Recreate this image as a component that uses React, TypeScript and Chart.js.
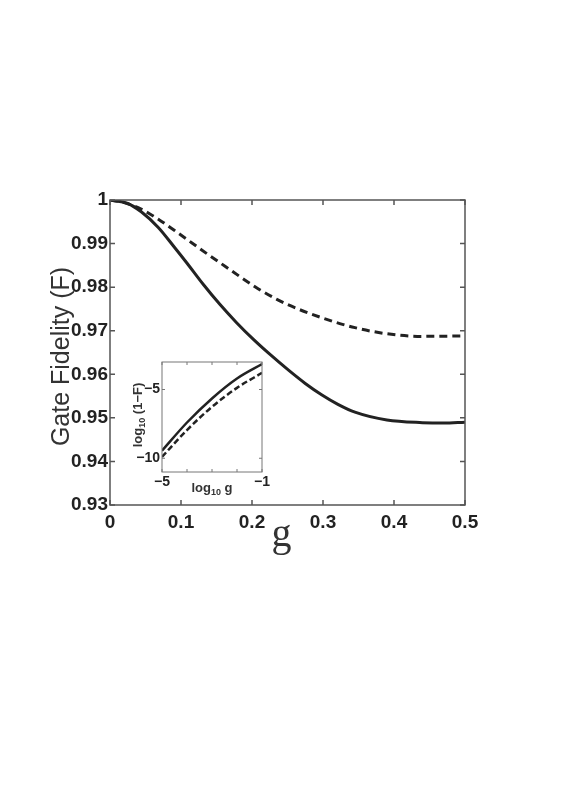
import React, { useEffect, useRef } from "react";
import { Chart, registerables } from "chart.js";

Chart.register(...registerables);

// ---------- Main plot data ----------
const gSolid = [0, 0.025, 0.044, 0.068, 0.091, 0.108, 0.1315, 0.155, 0.178, 0.202, 0.225, 0.251, 0.275, 0.298, 0.321, 0.345, 0.39, 0.44, 0.47, 0.5];
const fSolid = [1, 0.9992, 0.9973, 0.9937, 0.9891, 0.9856, 0.9806, 0.9760, 0.9719, 0.9680, 0.9646, 0.9610, 0.9579, 0.9553, 0.9531, 0.9513, 0.9495, 0.9489, 0.9488, 0.9490];

const gDashed = [0, 0.02, 0.044, 0.068, 0.091, 0.115, 0.138, 0.162, 0.185, 0.208, 0.235, 0.25, 0.298, 0.345, 0.39, 0.44, 0.5];
const fDashed = [1, 0.9994, 0.9979, 0.9956, 0.9930, 0.9902, 0.9875, 0.9848, 0.9822, 0.9797, 0.9772, 0.9760, 0.9730, 0.9707, 0.9693, 0.9687, 0.9688];

const xTickValues = [0, 0.1, 0.2, 0.3, 0.4, 0.5];
const yTickValues = [0.93, 0.94, 0.95, 0.96, 0.97, 0.98, 0.99, 1];

// ---------- Inset data ----------
const insetLogG = [-5, -4, -3, -2, -1];
const insetSolid = [-9.45, -7.4, -5.65, -4.2, -3.15];
const insetDashed = [-9.9, -7.95, -6.26, -4.88, -3.79];
const insetXTicks = [-5, -4, -3, -2, -1];
const insetXTickLabels = ["\u22125", "", "", "", "\u22121"];
const insetYTicks = [-10, -5];
const insetYTickLabels = ["\u221210", "\u22125"];

const W = 572;
const H = 810;
const TICK_FONT = "'Liberation Sans', Arial, Helvetica, sans-serif";

const fmt = (v: number) => String(parseFloat(Number(v).toFixed(2)));

const framePlugin = {
  id: "frame",
  beforeDraw(chart: any, _args: any, opts: any) {
    if (opts && opts.bg) {
      const { ctx, chartArea: a } = chart;
      ctx.save();
      ctx.fillStyle = opts.bg;
      ctx.fillRect(a.left, a.top, a.right - a.left, a.bottom - a.top);
      ctx.restore();
    }
  },
  afterDraw(chart: any, _args: any, opts: any) {
    const { ctx, chartArea: a, scales } = chart;
    const xs = scales.x;
    const ys = scales.y;
    const len = opts.len || 4;
    ctx.save();
    ctx.strokeStyle = opts.color || "#555";
    ctx.lineWidth = opts.width || 1;
    ctx.beginPath();
    xs.ticks.forEach((t: any) => {
      const p = xs.getPixelForValue(t.value);
      ctx.moveTo(p, a.bottom);
      ctx.lineTo(p, a.bottom - len);
      ctx.moveTo(p, a.top);
      ctx.lineTo(p, a.top + len);
    });
    ys.ticks.forEach((t: any) => {
      const p = ys.getPixelForValue(t.value);
      ctx.moveTo(a.left, p);
      ctx.lineTo(a.left + len, p);
      ctx.moveTo(a.right, p);
      ctx.lineTo(a.right - len, p);
    });
    ctx.stroke();
    ctx.strokeRect(a.left, a.top, a.right - a.left, a.bottom - a.top);
    ctx.restore();
  },
};

const mainTitles = {
  id: "mainTitles",
  afterDraw(chart: any) {
    const { ctx, chartArea: a } = chart;
    ctx.save();
    ctx.fillStyle = "#333";
    ctx.font = "25px 'Liberation Sans', Arial, sans-serif";
    ctx.textAlign = "center";
    ctx.textBaseline = "alphabetic";
    ctx.translate(a.left - 41, (a.top + a.bottom) / 2 + 4);
    ctx.rotate(-Math.PI / 2);
    ctx.fillText("Gate Fidelity (F)", 0, 0);
    ctx.restore();

    ctx.save();
    ctx.fillStyle = "#333";
    ctx.font = "40px 'Liberation Serif', 'Times New Roman', serif";
    ctx.textAlign = "center";
    ctx.textBaseline = "alphabetic";
    ctx.fillText("g", (a.left + a.right) / 2 - 6, a.bottom + 41);
    ctx.restore();
  },
};

function drawSubText(ctx: any, parts: { t: string; sub?: boolean }[], big: string, small: string, cx: number, cy: number) {
  let total = 0;
  const widths = parts.map((p) => {
    ctx.font = p.sub ? small : big;
    const w = ctx.measureText(p.t).width;
    total += w;
    return w;
  });
  let x = cx - total / 2;
  parts.forEach((p, i) => {
    ctx.font = p.sub ? small : big;
    ctx.fillText(p.t, x, cy + (p.sub ? 3 : 0));
    x += widths[i];
  });
}

const insetTitles = {
  id: "insetTitles",
  afterDraw(chart: any) {
    const { ctx, chartArea: a } = chart;
    const big = "bold 13px " + TICK_FONT;
    const small = "bold 9px " + TICK_FONT;
    ctx.save();
    ctx.fillStyle = "#333";
    ctx.textAlign = "left";
    ctx.textBaseline = "alphabetic";
    drawSubText(ctx, [{ t: "log" }, { t: "10", sub: true }, { t: " g" }], big, small, (a.left + a.right) / 2, a.bottom + 20);
    ctx.restore();

    ctx.save();
    ctx.fillStyle = "#333";
    ctx.textAlign = "left";
    ctx.textBaseline = "alphabetic";
    ctx.translate(a.left - 20, (a.top + a.bottom) / 2 - 2);
    ctx.rotate(-Math.PI / 2);
    drawSubText(ctx, [{ t: "log" }, { t: "10", sub: true }, { t: " (1\u2212F)" }], big, small, 0, 0);
    ctx.restore();
  },
};

export default function App() {
  const mainRef = useRef<HTMLCanvasElement | null>(null);
  const insetRef = useRef<HTMLCanvasElement | null>(null);

  useEffect(() => {
    const tickFont = { family: TICK_FONT, size: 19, weight: "bold" as const };
    const main = new Chart(mainRef.current as HTMLCanvasElement, {
      type: "line",
      data: {
        datasets: [
          {
            data: gSolid.map((g, i) => ({ x: g, y: fSolid[i] })),
            borderColor: "#222",
            borderWidth: 3,
            pointRadius: 0,
            cubicInterpolationMode: "monotone",
            fill: false,
          },
          {
            data: gDashed.map((g, i) => ({ x: g, y: fDashed[i] })),
            borderColor: "#222",
            borderWidth: 3,
            borderDash: [8, 5],
            pointRadius: 0,
            cubicInterpolationMode: "monotone",
            fill: false,
          },
        ],
      },
      options: {
        animation: false,
        responsive: false,
        devicePixelRatio: 1,
        layout: { padding: { left: 0, right: W - 465, top: 200, bottom: H - 505 - 70 } },
        plugins: {
          legend: { display: false },
          tooltip: { enabled: false },
          frame: { color: "#555", width: 1.5, len: 5 },
        } as any,
        scales: {
          x: {
            type: "linear",
            min: 0,
            max: 0.5,
            afterBuildTicks: (s: any) => {
              s.ticks = xTickValues.map((v) => ({ value: v }));
            },
            afterFit: (s: any) => {
              s.height = 70;
            },
            ticks: { font: tickFont, color: "#222", padding: 6, autoSkip: false, maxRotation: 0, callback: (v: any) => fmt(v) },
            grid: { display: false, drawTicks: false },
            border: { display: false },
          },
          y: {
            type: "linear",
            min: 0.93,
            max: 1,
            afterBuildTicks: (s: any) => {
              s.ticks = yTickValues.map((v) => ({ value: v }));
            },
            afterFit: (s: any) => {
              s.width = 110;
            },
            ticks: { font: tickFont, color: "#222", padding: 2, autoSkip: false, callback: (v: any) => fmt(v) },
            grid: { display: false, drawTicks: false },
            border: { display: false },
          },
        },
      },
      plugins: [framePlugin, mainTitles],
    });

    const insetFont = { family: TICK_FONT, size: 14, weight: "bold" as const };
    const inset = new Chart(insetRef.current as HTMLCanvasElement, {
      type: "line",
      data: {
        datasets: [
          {
            data: insetLogG.map((g, i) => ({ x: g, y: insetSolid[i] })),
            borderColor: "#222",
            borderWidth: 2.5,
            pointRadius: 0,
            cubicInterpolationMode: "monotone",
            fill: false,
          },
          {
            data: insetLogG.map((g, i) => ({ x: g, y: insetDashed[i] })),
            borderColor: "#222",
            borderWidth: 2.5,
            borderDash: [6, 3],
            pointRadius: 0,
            cubicInterpolationMode: "monotone",
            fill: false,
          },
        ],
      },
      options: {
        animation: false,
        responsive: false,
        devicePixelRatio: 1,
        layout: { padding: { left: 122, right: W - 262, top: 362, bottom: H - 472 - 30 } },
        plugins: {
          legend: { display: false },
          tooltip: { enabled: false },
          frame: { color: "#777", width: 1, len: 3, bg: "#ffffff" },
        } as any,
        scales: {
          x: {
            type: "linear",
            min: -5,
            max: -1,
            afterBuildTicks: (s: any) => {
              s.ticks = insetXTicks.map((v) => ({ value: v }));
            },
            afterFit: (s: any) => {
              s.height = 30;
            },
            ticks: {
              font: insetFont,
              color: "#222",
              padding: 2,
              autoSkip: false,
              maxRotation: 0,
              callback: (_v: any, i: number) => insetXTickLabels[i],
            },
            grid: { display: false, drawTicks: false },
            border: { display: false },
          },
          y: {
            type: "linear",
            min: -11,
            max: -3,
            afterBuildTicks: (s: any) => {
              s.ticks = insetYTicks.map((v) => ({ value: v }));
            },
            afterFit: (s: any) => {
              s.width = 40;
            },
            ticks: {
              font: insetFont,
              color: "#222",
              padding: 2,
              autoSkip: false,
              callback: (_v: any, i: number) => insetYTickLabels[i],
            },
            grid: { display: false, drawTicks: false },
            border: { display: false },
          },
        },
      },
      plugins: [framePlugin, insetTitles],
    });

    return () => {
      main.destroy();
      inset.destroy();
    };
  }, []);

  return (
    <div style={{ position: "absolute", left: 0, top: 0, width: W, height: H, background: "#fff" }}>
      <canvas ref={mainRef} width={W} height={H} style={{ position: "absolute", left: 0, top: 0, width: W, height: H }} />
      <canvas
        ref={insetRef}
        width={W}
        height={H}
        style={{ position: "absolute", left: 0, top: 0, width: W, height: H, pointerEvents: "none" }}
      />
    </div>
  );
}
